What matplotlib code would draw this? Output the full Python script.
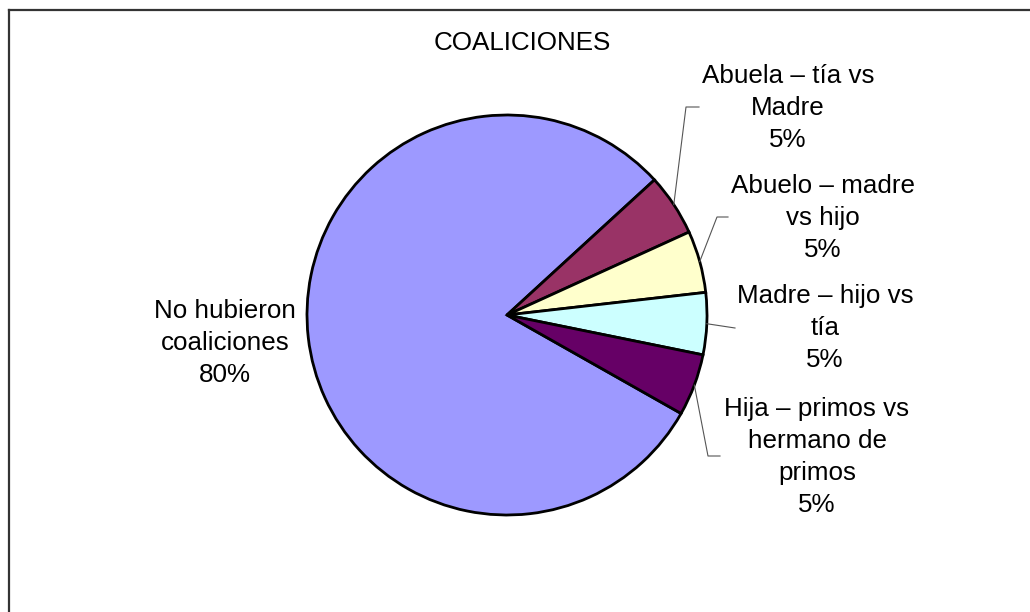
import numpy as np
import matplotlib
matplotlib.use("Agg")
import matplotlib.pyplot as plt
from matplotlib.lines import Line2D

# datos
categorias = [
    "No hubieron\ncoaliciones",
    "Abuela – tía vs\nMadre",
    "Abuelo – madre\nvs hijo",
    "Madre – hijo vs\ntía",
    "Hija – primos vs\nhermano de\nprimos",
]
porcentajes = [80, 5, 5, 5, 5]
colores = ["#9d99ff", "#993366", "#ffffcc", "#ccffff", "#660066"]

# posiciones de etiquetas (en radios del pastel) y codo de la linea guia
pos_etiquetas = [(-1.41, -0.14), (1.405, 1.035), (1.58, 0.485), (1.59, -0.065), (1.55, -0.71)]
codos = [None, (0.895, 1.04, 0.96), (1.05, 0.49, 1.105), (None, -0.065, 1.14), (1.005, -0.705, 1.065)]

W, H = 1030, 612
fig = plt.figure(figsize=(W / 100, H / 100), dpi=100)
plt.rcParams["font.family"] = ["Liberation Sans", "DejaVu Sans"]

cx, cy, r = 507, 315, 200
ax = fig.add_axes([(cx - r) / W, (H - cy - r) / H, 2 * r / W, 2 * r / H])
wedges, _ = ax.pie(porcentajes, colors=colores, startangle=-29.5, counterclock=False,
                   wedgeprops=dict(edgecolor="black", linewidth=2.0))
ax.set_xlim(-1, 1)
ax.set_ylim(-1, 1)
ax.set_aspect("equal")
ax.axis("off")

fs = 18.7
for i, w in enumerate(wedges):
    tx, ty = pos_etiquetas[i]
    ax.text(tx, ty, f"{categorias[i]}\n{porcentajes[i]}%", ha="center", va="center",
            fontsize=fs, linespacing=1.42, clip_on=False)
    if codos[i] is None:
        continue
    ang = np.deg2rad((w.theta1 + w.theta2) / 2)
    x0, y0 = np.cos(ang), np.sin(ang)
    ex, ey, fx = codos[i]
    if ex is None:
        xs, ys = [x0, fx], [y0, ey]
    else:
        xs, ys = [x0, ex, fx], [y0, ey, ey]
    ax.plot(xs, ys, color="#555555", linewidth=0.8, clip_on=False)

fig.text(522 / W, 1 - 43 / H, "COALICIONES", ha="center", va="center", fontsize=fs)

# borde del area del grafico
fig.add_artist(Line2D([8.5 / W, 1.0], [1 - 9.5 / H, 1 - 9.5 / H], color="#333333", linewidth=1.6))
fig.add_artist(Line2D([8.5 / W, 8.5 / W], [0.0, 1 - 9.5 / H], color="#333333", linewidth=1.6))

fig.savefig("out.png", dpi=100)
